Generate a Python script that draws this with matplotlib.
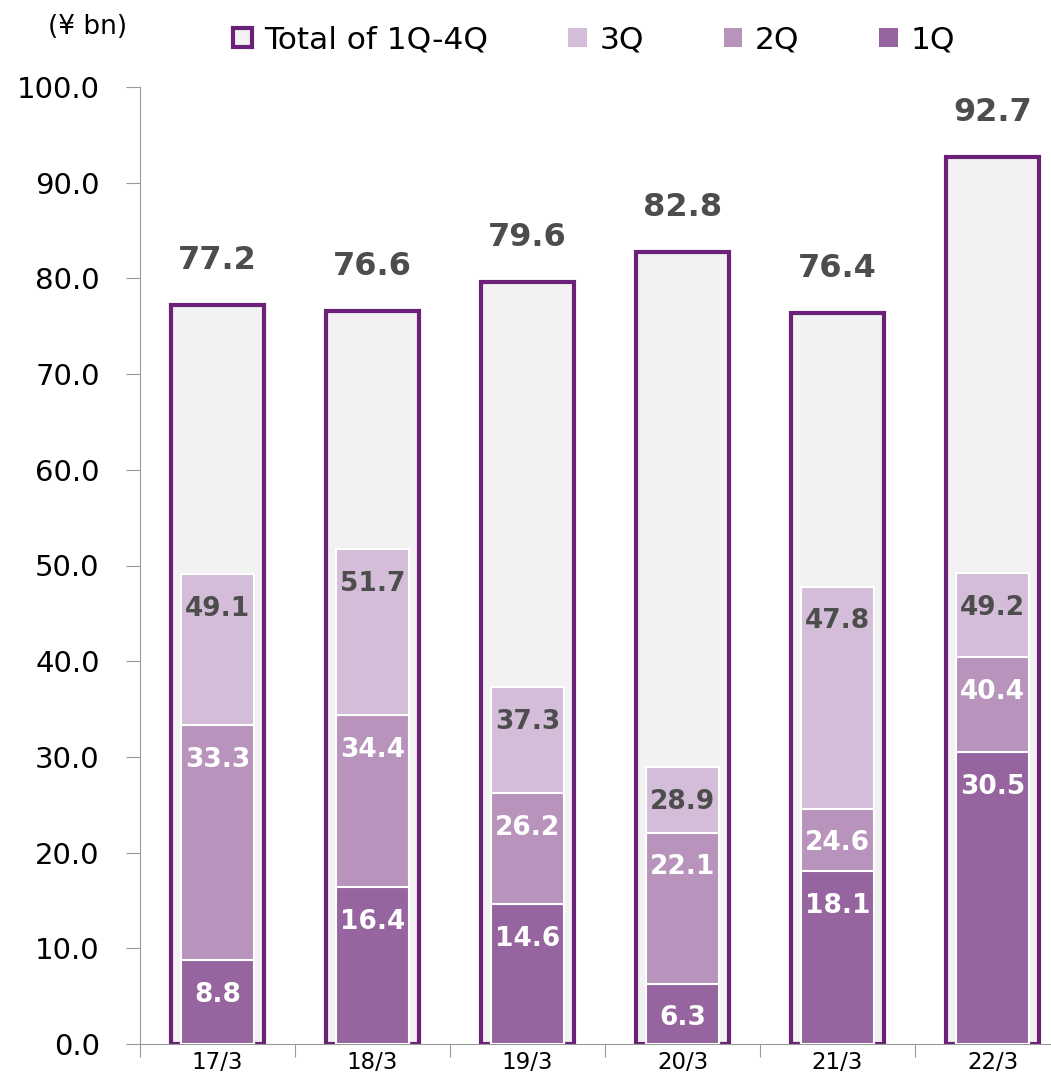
import matplotlib.pyplot as plt
from matplotlib.patches import Patch
import numpy as np

years = ["17/3", "18/3", "19/3", "20/3", "21/3", "22/3"]
q1 = [8.8, 16.4, 14.6, 6.3, 18.1, 30.5]
q2 = [33.3, 34.4, 26.2, 22.1, 24.6, 40.4]   # cumulative 1Q-2Q
q3 = [49.1, 51.7, 37.3, 28.9, 47.8, 49.2]   # cumulative 1Q-3Q
total = [77.2, 76.6, 79.6, 82.8, 76.4, 92.7]

c_edge = "#6b2178"
c_total = "#f2f2f2"
c_q1 = "#96649f"
c_q2 = "#b894bd"
c_q3 = "#d4bdd8"
txt_dark = "#4d4d4d"

fig = plt.figure(figsize=(10.51, 10.82), dpi=100)
ax = fig.add_axes([140 / 1051, 1 - 1044 / 1082, 1 - 140 / 1051, (1044 - 87) / 1082])

x = np.arange(len(years))
ax.bar(x, total, width=0.6, color=c_total, edgecolor=c_edge, linewidth=3, zorder=2)
ax.bar(x, q3, width=0.47, color=c_q3, edgecolor="white", linewidth=1.5, zorder=3)
ax.bar(x, q2, width=0.47, color=c_q2, edgecolor="white", linewidth=1.5, zorder=4)
ax.bar(x, q1, width=0.47, color=c_q1, edgecolor="white", linewidth=1.5, zorder=5)

for i in range(len(years)):
    ax.annotate(f"{total[i]:.1f}", (x[i], total[i]), xytext=(0, 32), textcoords="offset points",
                ha="center", va="center", fontsize=23, fontweight="bold", color=txt_dark, zorder=6)
    for vals, col in ((q3, txt_dark), (q2, "white"), (q1, "white")):
        ax.annotate(f"{vals[i]:.1f}", (x[i], vals[i]), xytext=(0, -25), textcoords="offset points",
                    ha="center", va="center", fontsize=19, fontweight="bold", color=col, zorder=7)

ax.set_yticks(np.arange(0, 101, 10))
ax.set_yticklabels([f"{v:.1f}" for v in range(0, 101, 10)], fontsize=21)
ax.set_xticks(np.arange(-0.5, 6, 1))
ax.set_xticklabels([])
ax.set_xticks(x, minor=True)
ax.set_xticklabels(years, minor=True, fontsize=16.5)
# limits after the ticks, so the boundary ticks don't widen the view
ax.set_xlim(-0.5, -0.5 + (1051 - 140) / 155)
ax.set_ylim(0, 100)
ax.tick_params(axis="x", which="major", length=9, color="#999999")
ax.tick_params(axis="x", which="minor", length=0, pad=5)
ax.tick_params(axis="y", length=10, color="#999999", pad=19)
for s in ("top", "right"):
    ax.spines[s].set_visible(False)
ax.spines["left"].set_color("#999999")
ax.spines["bottom"].set_color("#999999")

fig.text(88 / 1051, 1 - 27 / 1082, "(¥ bn)", ha="center", va="center", fontsize=19)

handles = [
    Patch(facecolor=c_total, edgecolor=c_edge, linewidth=3, label="Total of 1Q-4Q"),
    Patch(facecolor=c_q3, label="3Q"),
    Patch(facecolor=c_q2, label="2Q"),
    Patch(facecolor=c_q1, label="1Q"),
]
fig.legend(handles=handles, loc="center", bbox_to_anchor=(594 / 1051, 1 - 40 / 1082), ncol=4,
           frameon=False, fontsize=22.5, handlelength=0.6, handleheight=0.6, handletextpad=0.4,
           columnspacing=2.55)

fig.savefig("out.png", dpi=100)
